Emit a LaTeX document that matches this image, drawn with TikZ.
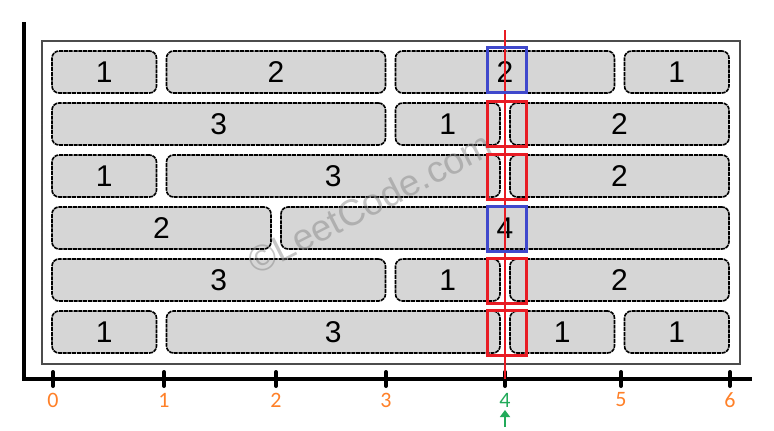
\documentclass[tikz,border=0pt]{standalone}
\usepackage{fontspec}
\setmainfont{Liberation Sans}
\newfontfamily\calib{Carlito}
\usetikzlibrary{arrows.meta}
\definecolor{brickfill}{RGB}{214,214,214}
\definecolor{axorange}{RGB}{255,128,40}
\definecolor{axgreen}{RGB}{34,170,90}
\definecolor{hlred}{RGB}{232,28,36}
\definecolor{hlblue}{RGB}{63,72,204}
\tikzset{
  brick/.style={draw=black, dash pattern=on 4pt off 0.8pt, line width=1.6pt, fill=brickfill,
    rounded corners=7pt, inner sep=0pt, minimum height=42pt, font=\fontsize{30}{30}\selectfont},
  redbox/.style={draw=hlred, line width=3pt, inner sep=0pt, minimum width=39pt, minimum height=45pt},
  bluebox/.style={draw=hlblue, line width=3pt, inner sep=0pt, minimum width=39pt, minimum height=45pt},
  axisline/.style={line width=4pt, black},
  tickmark/.style={line width=4pt, black, line cap=round},
  ticklabel/.style={text=axorange, font=\calib\fontsize{22}{22}\selectfont, inner sep=0pt},
  frame/.style={draw=black!70, line width=1.6pt},
  wmark/.style={text=gray, opacity=0.45, font=\fontsize{37}{37}\selectfont, rotate=27, inner sep=0pt}
}
% brick: name, from boundary a, to boundary b, row, label
\newcommand{\mybrick}[5]{%
  \pgfmathsetmacro{\xa}{47+114.5*#2+5}%
  \pgfmathsetmacro{\xb}{47+114.5*#3-5}%
  \pgfmathsetmacro{\yc}{51+52*(#4-1)+21}%
  \node[brick, minimum width=\xb-\xa] (#1) at ({(\xa+\xb)/2},\yc) {#5};}
\begin{document}
\begin{tikzpicture}[x=1pt,y=-1pt]
\useasboundingbox (0,0) rectangle (774,431);
% frame
\draw[frame] (42,41) rectangle (740,364);
% row 1
\mybrick{ra}{0}{1}{1}{1}
\mybrick{rb}{1}{3}{1}{2}
\mybrick{rc}{3}{5}{1}{2}
\mybrick{rd}{5}{6}{1}{1}
% row 2
\mybrick{sa}{0}{3}{2}{3}
\mybrick{sb}{3}{4}{2}{1}
\mybrick{sc}{4}{6}{2}{2}
% row 3
\mybrick{ta}{0}{1}{3}{1}
\mybrick{tb}{1}{4}{3}{3}
\mybrick{tc}{4}{6}{3}{2}
% row 4
\mybrick{ua}{0}{2}{4}{2}
\mybrick{ub}{2}{6}{4}{4}
% row 5
\mybrick{va}{0}{3}{5}{3}
\mybrick{vb}{3}{4}{5}{1}
\mybrick{vc}{4}{6}{5}{2}
% row 6
\mybrick{wa}{0}{1}{6}{1}
\mybrick{wb}{1}{4}{6}{3}
\mybrick{wc}{4}{5}{6}{1}
\mybrick{wd}{5}{6}{6}{1}
% watermark
\node[wmark] (wm) at (370,203) {©LeetCode.com};
% axes
\coordinate (ytop) at (24,22);
\coordinate (origin) at (24,379);
\coordinate (xend) at (752,379);
\draw[axisline] (ytop) -- (origin) -- (xend);
% ticks and labels
\foreach \n/\x in {0/53,1/164,2/276,3/386,4/505,5/621,6/730}{
  \coordinate (tt\n) at (\x,372);
  \coordinate (tb\n) at (\x,386);
  \draw[tickmark] (tt\n) -- (tb\n);
}
\foreach \n/\x in {0/53,1/164,2/276,3/386,5/621,6/730}{
  \node[ticklabel] (l\n) at (\x,400) {\n};
}
\node[ticklabel, text=axgreen] (l4) at (505,400) {4};
\coordinate (arrbot) at (505,427);
\coordinate (arrtop) at (505,410);
\draw[axgreen, line width=2.4pt, -{Triangle[length=7pt,width=10pt]}] (arrbot) -- (arrtop);
% red cut line
\coordinate (cuttop) at (505,30);
\coordinate (cutbot) at (505,379);
\draw[hlred, line width=1.2pt] (cuttop) -- (cutbot);
% highlight boxes
\node[bluebox] (h1) at (507,69.5) {};
\node[redbox] (h2) at (507,124) {};
\node[redbox] (h3) at (507,176.5) {};
\node[bluebox] (h4) at (507,229) {};
\node[redbox] (h5) at (507,281) {};
\node[redbox] (h6) at (507,333) {};
\end{tikzpicture}
\end{document}
